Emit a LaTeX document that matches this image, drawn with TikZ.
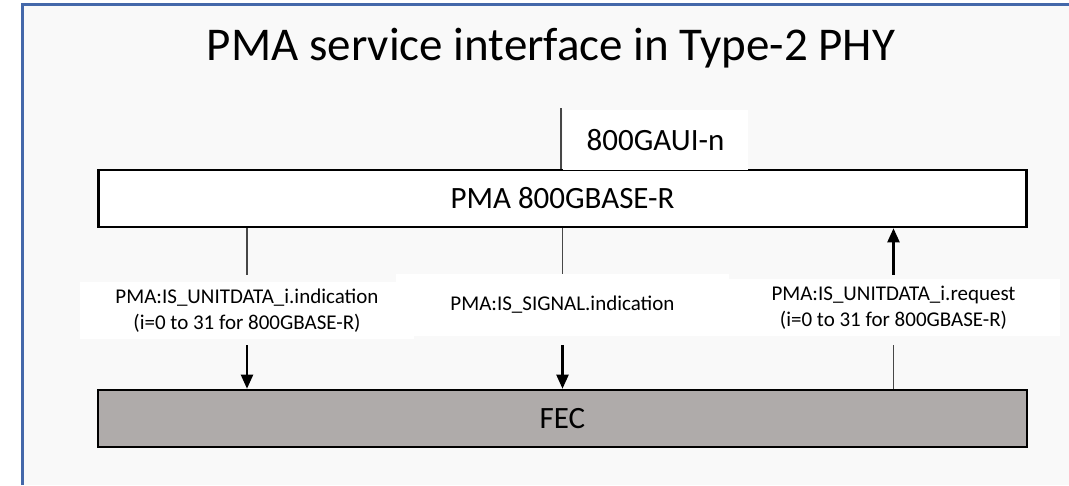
\documentclass[tikz,border=0pt]{standalone}
\usepackage{fontspec}
\setmainfont{Carlito}
\usetikzlibrary{arrows.meta}
\definecolor{framebl}{RGB}{68,104,170}
\definecolor{bgpanel}{RGB}{249,249,249}
\definecolor{fecgray}{RGB}{175,171,170}
\begin{document}
\begin{tikzpicture}[x=1pt,y=-1pt,
  thinline/.style={draw=black!72, line width=1.4pt},
  arrowline/.style={draw=black, line width=2.2pt, -{Triangle[length=14pt,width=12pt]}},
  lbl/.style={fill=white, inner sep=0pt, align=center, font=\fontsize{21}{25.6}\selectfont},
  block/.style={draw=black, line width=2.6pt, inner sep=0pt, font=\fontsize{31}{37}\selectfont}]
\useasboundingbox (0,0) rectangle (1069,485);
\fill[white] (0,0) rectangle (1069,485);
\fill[bgpanel] (22.5,4.5) rectangle (1069,485);
\draw[draw=framebl, line width=2.4pt] (22.5,485) -- (22.5,4.5) -- (1069,4.5);
% title
\node[anchor=base, font=\fontsize{47}{56}\selectfont, inner sep=0pt] (title) at (551,60) {PMA service interface in Type-2 PHY};
% PMA block
\node[block, fill=white, minimum width=928pt, minimum height=57pt] (pma) at (562.5,198.5) {PMA 800GBASE-R};
% 800GAUI-n
\node[fill=white, inner sep=0pt, minimum width=185pt, minimum height=60pt, font=\fontsize{31}{37}\selectfont] (gaui) at (655.5,140) {800GAUI-n};
\coordinate (gtop) at (561,108);
\draw[thinline] (gtop) -- (gtop |- pma.north);
% FEC block
\node[block, fill=fecgray, minimum width=929pt, minimum height=57pt] (fec) at (562.5,418.5) {FEC};
% labels
\node[lbl, minimum width=333pt, minimum height=62pt] (lab2) at (562.5,305) {PMA:IS\_SIGNAL.indication};
\node[lbl, minimum width=334pt, minimum height=57pt] (lab1) at (247,310.5) {PMA:IS\_UNITDATA\_i.indication\\(i=0 to 31 for 800GBASE-R)};
\node[lbl, minimum width=333pt, minimum height=57pt] (lab3) at (893.5,307.5) {PMA:IS\_UNITDATA\_i.request\\(i=0 to 31 for 800GBASE-R)};
% left connector
\draw[thinline] (lab1.north |- pma.south) -- ([yshift=7pt]lab1.north);
\draw[arrowline] ([yshift=-6pt]lab1.south) -- (lab1.south |- fec.north);
% middle connector
\draw[thinline] (lab2.north |- pma.south) -- (lab2.north);
\draw[arrowline] ([yshift=-9pt]lab2.south) -- (lab2.south |- fec.north);
% right connector
\draw[arrowline] ([yshift=4pt]lab3.north) -- (lab3.north |- pma.south);
\draw[thinline] ([yshift=-9pt]lab3.south) -- (lab3.south |- fec.north);
\end{tikzpicture}
\end{document}
